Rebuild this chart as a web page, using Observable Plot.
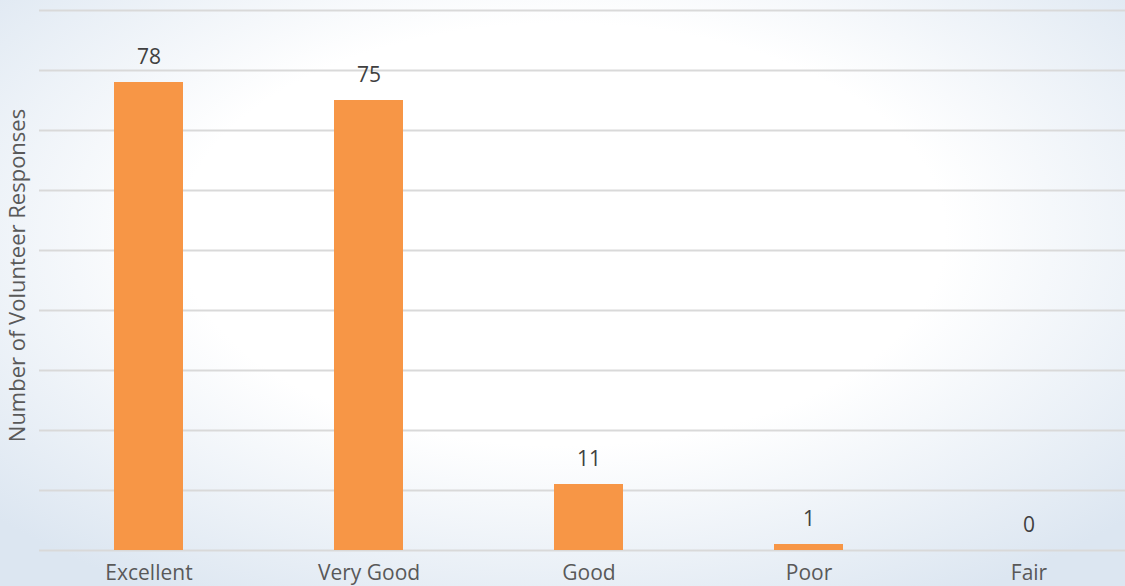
<!DOCTYPE html>
<html>
<head>
<meta charset="utf-8">
<script src="https://cdn.jsdelivr.net/npm/d3@7"></script>
<script src="https://cdn.jsdelivr.net/npm/@observablehq/plot@0.6"></script>
<style>
  html, body { margin: 0; padding: 0; }
  body { width: 1125px; height: 586px; overflow: hidden; }
  #chart {
    width: 1125px; height: 586px;
    background: radial-gradient(ellipse 68% 72% at 50% 40%, #ffffff 50%, #dce6f1 100%);
  }
  #chart svg { background: transparent !important; display: block; }
</style>
</head>
<body>
<div id="chart"></div>
<script>
const categories = ["Excellent", "Very Good", "Good", "Poor", "Fair"];
const responses = [78, 75, 11, 1, 0];
const yTicks = [0, 10, 20, 30, 40, 50, 60, 70, 80, 90];

const data = categories.map((c, i) => ({category: c, value: responses[i]}));

const chart = Plot.plot({
  width: 1125,
  height: 586,
  marginTop: 10,
  marginBottom: 36,
  marginLeft: 39,
  marginRight: 0,
  style: {background: "transparent", fontFamily: "'Open Sans', sans-serif", color: "#595959"},
  x: {domain: categories, range: [39, 1139], paddingInner: 0.686, paddingOuter: 0.343, label: null},
  y: {domain: [0, 90], range: [550, 10], label: null, axis: null},
  marks: [
    Plot.ruleY(yTicks, {stroke: "#d9d9d9", strokeWidth: 2}),
    Plot.barY(data, {x: "category", y: "value", fill: "#f79646"}),
    Plot.text(data, {x: "category", y: "value", text: d => String(d.value), dy: -25, fontSize: 21, fill: "#404040"}),
    Plot.axisX({tickSize: 0, tickPadding: 15, fontSize: 21, fill: "#595959", label: null}),
    Plot.text(["Number of Volunteer Responses"], {frameAnchor: "left", textAnchor: "middle", rotate: -90, dx: -22, dy: -5, fontSize: 22, fill: "#595959"})
  ]
});
document.getElementById("chart").appendChild(chart);
</script>
</body>
</html>
